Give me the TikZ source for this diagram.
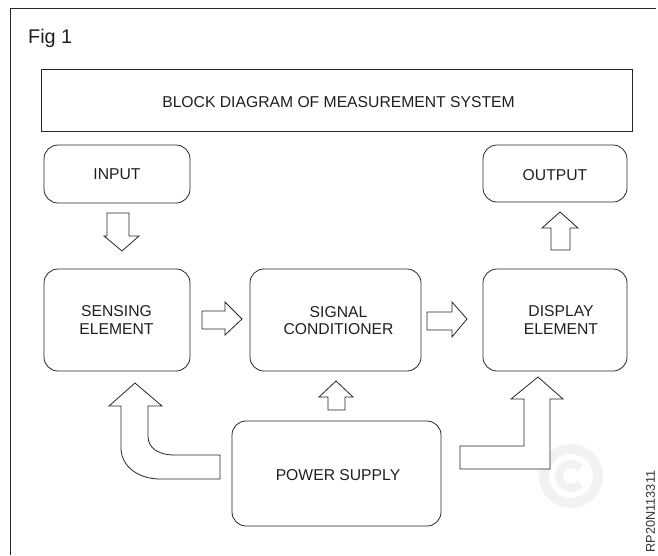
\documentclass[tikz,border=0pt]{standalone}
\usepackage{fontspec}
\setmainfont{Liberation Sans}
\usetikzlibrary{calc}
\begin{document}
\begin{tikzpicture}[x=1pt,y=-1pt,
  ln/.style={draw=black!85, line width=0.8pt},
  box/.style={ln, rounded corners=14pt, inner sep=0pt},
  txt/.style={align=center, text=black!88, inner sep=0pt, font=\fontsize{15.7}{17.7}\selectfont},
  blk/.style={ln, fill=white, line join=miter}]
\useasboundingbox (0,0) rectangle (658,555);
% faint watermark
\draw[black!5, line width=10pt] (571,476) circle (27);
\draw[black!5, line width=8pt] ($(571,476)+(40:12)$) arc (40:320:12);
% frame
\draw[ln] (10,555) -- (10,8) -- (656,8);
\node[txt, anchor=base west, font=\fontsize{19.8}{22}\selectfont] (fig) at (28,43) {Fig 1};
% title
\node[ln, minimum width=591pt, minimum height=62pt, inner sep=0pt] (title) at (336.5,100) {};
\node[txt] (titletext) at (338.5,102) {BLOCK DIAGRAM OF MEASUREMENT SYSTEM};
% blocks
\node[box, minimum width=146pt, minimum height=58pt] (input) at (117,174) {};
\node[txt] at (117,174) {INPUT};
\node[box, minimum width=146pt, minimum height=102pt] (sensing) at (117,320) {};
\node[txt] at (116.5,320) {SENSING\\ELEMENT};
\node[box, minimum width=171pt, minimum height=102pt] (signal) at (335.5,320) {};
\node[txt] at (338.5,320.5) {SIGNAL\\CONDITIONER};
\node[box, minimum width=144pt, minimum height=102pt] (display) at (555,320) {};
\node[txt] at (561,320) {DISPLAY\\ELEMENT};
\node[box, minimum width=144pt, minimum height=57pt] (output) at (555,173.5) {};
\node[txt] at (555,175) {OUTPUT};
\node[box, minimum width=209pt, minimum height=105pt] (power) at (336.5,473.5) {};
\node[txt] at (338,475) {POWER SUPPLY};
% block arrows
\draw[blk] (107,213) -- (129,213) -- (129,236) -- (139,236) -- (122,251) -- (104,236) -- (107,236) -- cycle;
\draw[blk] (202,311) -- (225,311) -- (225,302) -- (242,319) -- (225,335) -- (225,329) -- (202,329) -- cycle;
\draw[blk] (427,312) -- (452,312) -- (452,302) -- (467,319) -- (452,337) -- (452,330) -- (427,330) -- cycle;
\draw[blk] (551,250) -- (551,228) -- (542,228) -- (560,212) -- (578,228) -- (570,228) -- (570,250) -- cycle;
\draw[blk] (328,410) -- (328,397) -- (319,397) -- (336,381) -- (353,397) -- (345,397) -- (345,410) -- cycle;
\draw[blk] (220,479) -- (160,479) .. controls (138,479) and (121,466) .. (121,448) -- (121,406) -- (109,406) -- (135,383) -- (162,406) -- (148,406) -- (148,436) .. controls (148,448) and (158,455) .. (175,455) -- (220,455) -- cycle;
\draw[blk] (460,446) -- (524,446) -- (524,399) -- (511,399) -- (538,377) -- (563,399) -- (550,399) -- (550,469) -- (460,469) -- cycle;
% code
\node[txt, rotate=90, text=black!80, font=\fontsize{12.7}{14}\selectfont] (code) at (650.5,511.5) {RP20N113311};
\end{tikzpicture}
\end{document}
